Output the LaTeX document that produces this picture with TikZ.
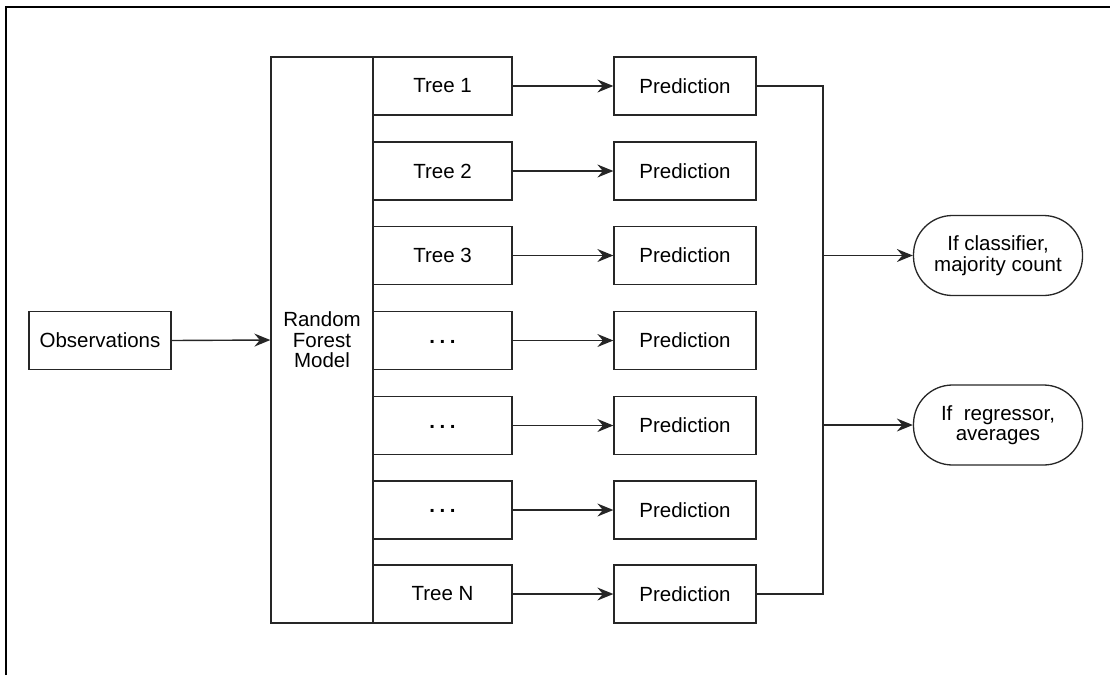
\documentclass[tikz,border=0pt]{standalone}
\usepackage{fontspec}
\setmainfont{Liberation Sans}
\usetikzlibrary{arrows.meta}
\definecolor{ink}{HTML}{262626}
\newcommand{\gapdots}{\raisebox{-5pt}{\bfseries .\kern4.5pt.\kern4.5pt.}}
\tikzset{
  box/.style={draw=ink, line width=1.3pt, rectangle, inner sep=0pt,
    minimum width=#1, minimum height=58pt, align=center,
    font=\fontsize{20.5}{21}\selectfont},
  box/.default=142pt,
  tree/.style={box=139pt},
  term/.style={draw=ink, line width=1.3pt, rectangle, rounded corners=39pt,
    minimum width=169pt, minimum height=80pt, inner sep=0pt, align=center,
    font=\fontsize{20.5}{20.5}\selectfont},
  wire/.style={draw=ink, line width=1.4pt},
  flow/.style={wire, -{Stealth[length=16pt, width=13pt, inset=5.5pt]}},
}
\begin{document}
\begin{tikzpicture}[x=1pt, y=-1pt]
  \useasboundingbox (0,0) rectangle (1110,675);
  % page frame: top and left edges
  \draw[black, line width=2.5pt] (6,675) -- (6,7) -- (1110,7);

  % input and model
  \node[box] (obs) at (100,340.5) {Observations};
  \node[draw=ink, line width=1.3pt, rectangle, minimum width=102pt,
        minimum height=566pt, align=center, inner sep=0pt,
        font=\fontsize{20.5}{20.5}\selectfont] (rf) at (322,340) {Random\\Forest\\Model};

  % trees
  \node[tree] (t1) at (442.5,86)    {Tree 1};
  \node[tree] (t2) at (442.5,171)   {Tree 2};
  \node[tree] (t3) at (442.5,255.5) {Tree 3};
  \node[tree] (t4) at (442.5,340.5) {\gapdots};
  \node[tree] (t5) at (442.5,425.5) {\gapdots};
  \node[tree] (t6) at (442.5,510)   {\gapdots};
  \node[tree] (t7) at (442.5,594)   {Tree N};

  % predictions
  \foreach \i/\y in {1/86,2/171,3/255.5,4/340.5,5/425.5,6/510,7/594}{
    \node[box] (p\i) at (685,\y) {Prediction};
    \draw[flow] (t\i.east) -- (p\i.west);
  }

  \draw[flow] (obs.east) -- (rf.west);

  % aggregated outputs
  \node[term] (cls) at (998,255.5) {If classifier,\\majority count};
  \node[term] (reg) at (998,425)   {If~ regressor,\\averages};

  \coordinate (mtop) at (823,86);
  \coordinate (mbot) at (823,594);
  \draw[wire] (p1.east) -- (mtop) -- (mbot) -- (p7.east);
  \draw[flow] (cls.west -| mtop) -- (cls.west);
  \draw[flow] (reg.west -| mtop) -- (reg.west);
\end{tikzpicture}
\end{document}
